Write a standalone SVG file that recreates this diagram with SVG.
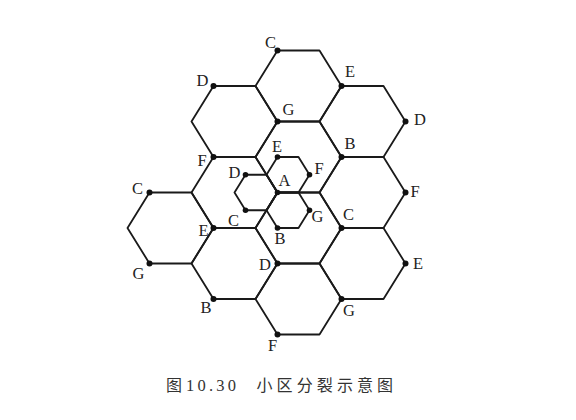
<svg xmlns="http://www.w3.org/2000/svg" xmlns:xlink="http://www.w3.org/1999/xlink" width="576" height="420" viewBox="0 0 576 420">
<style>
.hex{fill:none;stroke:#1a1a1a;stroke-width:1.8;stroke-linejoin:round}
.dot{fill:#111}
.lbl{font-family:"Liberation Serif","Times New Roman",serif;font-size:16.5px;fill:#222;text-anchor:middle}
.cap{font-family:"Noto Sans CJK SC","Noto Sans CJK JP",sans-serif;font-size:16px;fill:#333}
.capn{font-family:"Liberation Serif",serif;font-size:16.5px;fill:#333}
</style>
<defs>
<polygon id="bh" class="hex" points="-21,-35.5 21,-35.5 43,0 21,35.5 -21,35.5 -43,0"/>
<polygon id="sh" class="hex" points="-10.5,-17.75 10.5,-17.75 21.5,0 10.5,17.75 -10.5,17.75 -21.5,0"/>
</defs>
<rect width="576" height="420" fill="#fff"/>
<g id="cells">
<g id="cell-top"><use xlink:href="#bh" x="298.5" y="86"/></g>
<g id="cell-upper-left"><use xlink:href="#bh" x="234.5" y="121.5"/></g>
<g id="cell-upper-right"><use xlink:href="#bh" x="362.5" y="121.5"/></g>
<g id="cell-center-upper"><use xlink:href="#bh" x="298.5" y="157"/></g>
<g id="cell-center-left"><use xlink:href="#bh" x="234.5" y="192.5"/></g>
<g id="cell-right"><use xlink:href="#bh" x="362.5" y="192.5"/></g>
<g id="cell-left"><use xlink:href="#bh" x="170.5" y="228"/></g>
<g id="cell-center-lower"><use xlink:href="#bh" x="298.5" y="228"/></g>
<g id="cell-lower-left"><use xlink:href="#bh" x="234.5" y="263.5"/></g>
<g id="cell-lower-right"><use xlink:href="#bh" x="362.5" y="263.5"/></g>
<g id="cell-bottom"><use xlink:href="#bh" x="298.5" y="299"/></g>
</g>
<g id="small-cells">
<g id="small-left"><use xlink:href="#sh" x="256" y="192.5"/></g>
<g id="small-upper-right"><use xlink:href="#sh" x="288" y="174.75"/></g>
<g id="small-lower-right"><use xlink:href="#sh" x="288" y="210.25"/></g>
</g>
<g id="points">
<circle class="dot" cx="277.5" cy="50.5" r="3"/>
<circle class="dot" cx="341.5" cy="86" r="3"/>
<circle class="dot" cx="213.5" cy="86" r="3"/>
<circle class="dot" cx="277.5" cy="121.5" r="3"/>
<circle class="dot" cx="405.5" cy="121.5" r="3"/>
<circle class="dot" cx="341.5" cy="157" r="3"/>
<circle class="dot" cx="213.5" cy="157" r="3"/>
<circle class="dot" cx="149.5" cy="192.5" r="3"/>
<circle class="dot" cx="405.5" cy="192.5" r="3"/>
<circle class="dot" cx="213.5" cy="228" r="3"/>
<circle class="dot" cx="341.5" cy="228" r="3"/>
<circle class="dot" cx="149.5" cy="263.5" r="3"/>
<circle class="dot" cx="277.5" cy="263.5" r="3"/>
<circle class="dot" cx="405.5" cy="263.5" r="3"/>
<circle class="dot" cx="213.5" cy="299" r="3"/>
<circle class="dot" cx="341.5" cy="299" r="3"/>
<circle class="dot" cx="277.5" cy="334.5" r="3"/>
<circle class="dot" cx="277.5" cy="157" r="2.8"/>
<circle class="dot" cx="309.5" cy="174.75" r="2.8"/>
<circle class="dot" cx="277.5" cy="192.5" r="2.8"/>
<circle class="dot" cx="309.5" cy="210.25" r="2.8"/>
<circle class="dot" cx="277.5" cy="228" r="2.8"/>
<circle class="dot" cx="245.5" cy="210.25" r="2.8"/>
<circle class="dot" cx="245.5" cy="174.75" r="2.8"/>
</g>
<g id="labels">
<text class="lbl" x="270.5" y="48">C</text>
<text class="lbl" x="350" y="77">E</text>
<text class="lbl" x="202.5" y="85.5">D</text>
<text class="lbl" x="288.5" y="115">G</text>
<text class="lbl" x="420" y="124.5">D</text>
<text class="lbl" x="350" y="149">B</text>
<text class="lbl" x="202" y="166">F</text>
<text class="lbl" x="277" y="152">E</text>
<text class="lbl" x="234.5" y="178">D</text>
<text class="lbl" x="284.5" y="186">A</text>
<text class="lbl" x="319" y="174">F</text>
<text class="lbl" x="137.5" y="194">C</text>
<text class="lbl" x="415" y="197">F</text>
<text class="lbl" x="233.5" y="225.5">C</text>
<text class="lbl" x="317.5" y="221.5">G</text>
<text class="lbl" x="203.5" y="235.5">E</text>
<text class="lbl" x="348.5" y="219.5">C</text>
<text class="lbl" x="280" y="244">B</text>
<text class="lbl" x="138.5" y="279">G</text>
<text class="lbl" x="265" y="269.5">D</text>
<text class="lbl" x="418" y="269">E</text>
<text class="lbl" x="206" y="313">B</text>
<text class="lbl" x="349" y="315.5">G</text>
<text class="lbl" x="272.5" y="351">F</text>
</g>
<g id="caption">
<text y="391"><tspan class="cap" x="166">图</tspan><tspan class="capn" x="186" letter-spacing="3.2">10.30</tspan><tspan class="cap" x="256.5" letter-spacing="4.1">小区分裂示意图</tspan></text>
</g>
</svg>
